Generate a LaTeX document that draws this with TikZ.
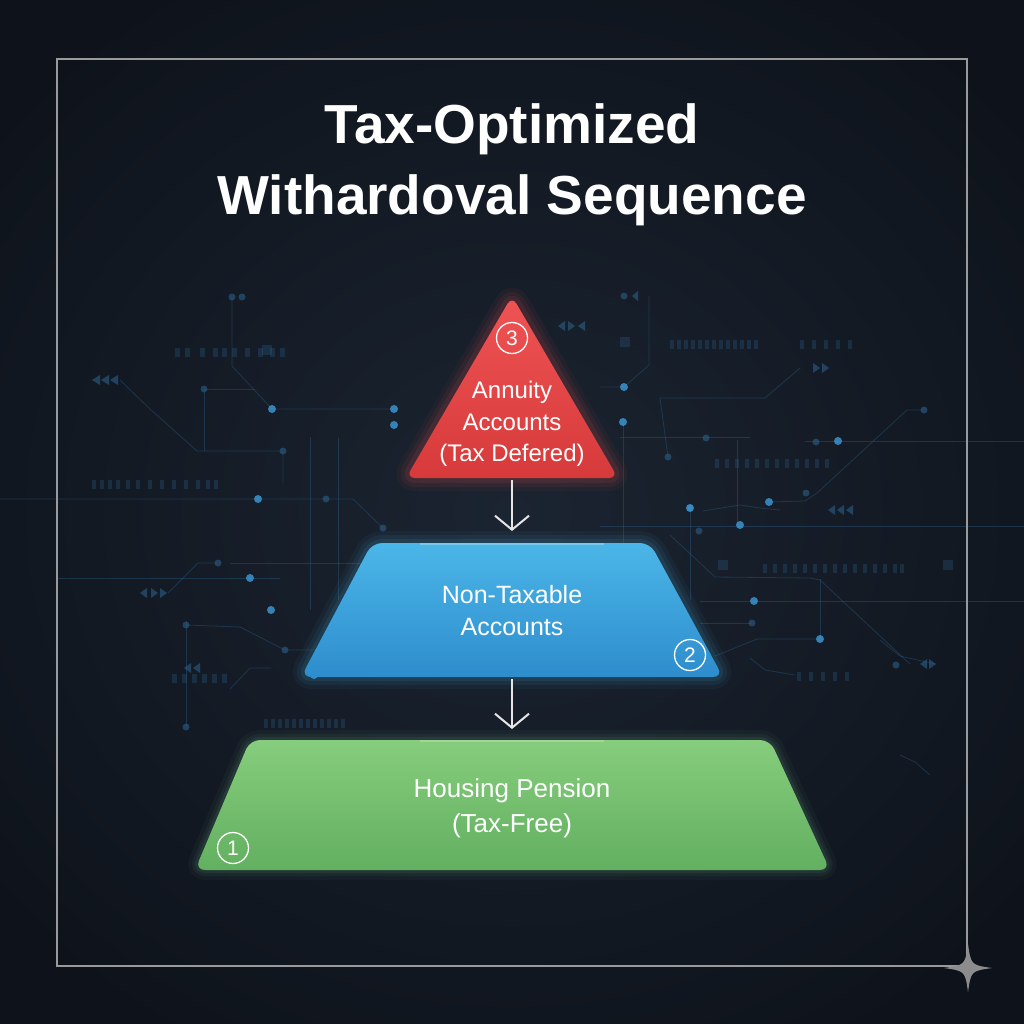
\documentclass[tikz,border=0pt]{standalone}
\usepackage{fontspec}
\setmainfont{Liberation Sans}
\usetikzlibrary{arrows.meta,calc}
\definecolor{bgdark}{HTML}{0E131B}
\definecolor{bgmid}{HTML}{1B2431}
\definecolor{framegray}{HTML}{9A9A9A}
\definecolor{redtop}{HTML}{EF5353}
\definecolor{redbot}{HTML}{D63A3A}
\definecolor{bluetop}{HTML}{4BB6E8}
\definecolor{bluebot}{HTML}{2E8DCD}
\definecolor{greentop}{HTML}{86CD7D}
\definecolor{greenbot}{HTML}{62B060}
\definecolor{greenglow}{HTML}{9BE8B0}
\definecolor{circ}{HTML}{2B5F88}
\definecolor{circdot}{HTML}{3C9BDA}
\definecolor{arrowgray}{HTML}{E6E6E6}
\definecolor{stargray}{HTML}{8C8C8C}
\tikzset{
  circline/.style={draw=circ, line width=0.8pt, opacity=0.4},
  cdot/.style={fill=circdot, opacity=0.8},
  cdim/.style={fill=circ, opacity=0.6},
  bars/.style={fill=circ, opacity=0.3},
  shapetext/.style={text=white, align=center, font=\fontsize{24}{31.5}\selectfont},
  numcircle/.style={circle, draw=white, line width=1.3pt, text=white, inner sep=0pt, minimum size=31pt, font=\fontsize{21}{21}\selectfont},
  flowarrow/.style={draw=arrowgray, line width=2pt, -{Straight Barb[length=14pt,width=34pt,line width=2pt]}},
}
\begin{document}
\begin{tikzpicture}[x=1pt,y=-1pt]
\useasboundingbox (0,0) rectangle (1024,1024);
% background
\fill[bgdark] (0,0) rectangle (1024,1024);
\shade[inner color=bgmid, outer color=bgdark] (-150,-100) rectangle (1174,1124);

% circuit decorations (left)
\draw[circline] (232,297) -- (232,366) -- (272,409) -- (394,409);
\draw[circline] (204,389) -- (255,389) (204,389) -- (204,451);
\draw[circline] (120,380) -- (150,409) -- (197,451) -- (283,451) -- (283,483);
\draw[circline] (0,499) -- (353,499) -- (383,528);
\draw[circline] (310,437) -- (310,610) (338,438) -- (338,600);
\draw[circline] (230,563) -- (380,563);
\draw[circline] (57,578) -- (280,578);
\draw[circline] (168,593) -- (198,563) -- (218,563);
\draw[circline] (186,625) -- (240,627) -- (285,650) -- (330,650);
\draw[circline] (230,689) -- (250,668) -- (271,668);
\draw[circline] (186,621) -- (186,727);
\foreach \p in {(232,297),(242,297),(204,389),(283,451),(326,499),(383,528),(218,563),(186,625),(186,727),(285,650)}
  \fill[cdim] \p circle (3.5);
\foreach \p in {(272,409),(394,409),(394,425),(258,499),(250,578),(271,610),(314,675)}
  \fill[cdot] \p circle (4);
\fill[circ, opacity=0.6] (92,380) -- (100,375) -- (100,385) -- cycle (101,380) -- (109,375) -- (109,385) -- cycle (110,380) -- (118,375) -- (118,385) -- cycle;
\fill[circ, opacity=0.6] (140,593) -- (147,588) -- (147,598) -- cycle (151,588) -- (158,593) -- (151,598) -- cycle (160,588) -- (167,593) -- (160,598) -- cycle;
\fill[circ, opacity=0.6] (184,668) -- (191,663) -- (191,673) -- cycle (193,668) -- (200,663) -- (200,673) -- cycle;
\foreach \x in {175,185,200,213,222,232,245,258,270,280} \fill[bars] (\x,348) rectangle ++(5,9);
\foreach \x in {92,100,108,116,126,136,148,160,172,184,196,206,214} \fill[bars] (\x,480) rectangle ++(4,9);
\foreach \x in {172,182,192,202,212,222} \fill[bars] (\x,674) rectangle ++(5,9);
\foreach \x in {264,271,278,285,292,299,306,313,320,327,334,341} \fill[bars] (\x,719) rectangle ++(4,9);
\fill[bars] (262,345) rectangle ++(10,10);

% circuit decorations (right)
\draw[circline] (649,296) -- (649,365) -- (624,387) -- (600,387);
\draw[circline] (800,368) -- (765,398) -- (660,398) -- (668,457);
\draw[circline] (924,410) -- (907,410) -- (817,493) -- (805,501) -- (769,502);
\draw[circline] (805,441) -- (1024,441);
\draw[circline] (620,437) -- (750,437);
\draw[circline] (623,422) -- (623,560);
\draw[circline] (600,526) -- (1024,526);
\draw[circline] (690,508) -- (690,600);
\draw[circline] (703,511) -- (740,505) -- (760,508) -- (780,510);
\draw[circline] (737,440) -- (737,525);
\draw[circline] (670,535) -- (715,577) -- (810,578) -- (820,580) -- (910,664);
\draw[circline] (700,601) -- (1024,601);
\draw[circline] (700,623) -- (752,623);
\draw[circline] (715,656) -- (757,639) -- (820,639);
\draw[circline] (820,579) -- (820,639);
\draw[circline] (880,640) -- (900,656) -- (935,664);
\draw[circline] (750,658) -- (765,670) -- (795,675);
\draw[circline] (900,755) -- (915,762) -- (930,775);
\foreach \p in {(624,296),(668,457),(706,438),(806,493),(690,508),(816,442),(752,623),(924,410),(699,531),(896,665)}
  \fill[cdim] \p circle (3.5);
\foreach \p in {(624,387),(623,422),(769,502),(740,525),(690,508),(754,601),(820,639),(838,441)}
  \fill[cdot] \p circle (4);
\fill[circ, opacity=0.6] (632,296) -- (638,291) -- (638,301) -- cycle;
\fill[circ, opacity=0.6] (813,363) -- (820,368) -- (813,373) -- cycle (822,363) -- (829,368) -- (822,373) -- cycle;
\fill[circ, opacity=0.6] (828,510) -- (835,505) -- (835,515) -- cycle (837,510) -- (844,505) -- (844,515) -- cycle (846,510) -- (853,505) -- (853,515) -- cycle;
\fill[circ, opacity=0.6] (920,664) -- (927,659) -- (927,669) -- cycle (929,659) -- (936,664) -- (929,669) -- cycle;
\fill[circ, opacity=0.6] (558,326) -- (565,321) -- (565,331) -- cycle (568,321) -- (575,326) -- (568,331) -- cycle (578,326) -- (585,321) -- (585,331) -- cycle;
\foreach \x in {670,677,684,691,698,705,712,719,726,733,740,747,754} \fill[bars] (\x,340) rectangle ++(4,9);
\foreach \x in {800,812,824,836,848} \fill[bars] (\x,340) rectangle ++(4,9);
\foreach \x in {715,725,735,745,755,765,775,785,795,805,815,825} \fill[bars] (\x,459) rectangle ++(4,9);
\foreach \x in {763,773,783,793,803,813,823,833,843,853,863,873,883,893,900} \fill[bars] (\x,564) rectangle ++(4,9);
\foreach \x in {797,809,821,833,845} \fill[bars] (\x,672) rectangle ++(4,9);
\fill[bars] (620,337) rectangle ++(10,10);
\fill[bars] (718,560) rectangle ++(10,10);
\fill[bars] (943,560) rectangle ++(10,10);

% frame
\draw[framegray, line width=2pt] (57,59) rectangle (967,966);

% title
\node[text=white, font=\bfseries\fontsize{55}{71}\selectfont, align=center] (title) at (512,165) {Tax-Optimized\\Withardoval Sequence};

% ---- red triangle ----
\foreach \w/\o in {26/0.05,18/0.07,10/0.10}
  \draw[redtop, line width=\w pt, opacity=\o, rounded corners=9pt, line join=round] (512,296) -- (618,478) -- (406,478) -- cycle;
\shade[top color=redtop, bottom color=redbot, rounded corners=9pt] (512,296) -- (618,478) -- (406,478) -- cycle;
\node[numcircle] (n3) at (512,338) {3};
\node[shapetext] (annuity) at (512,424) {Annuity\\Accounts\\(Tax Defered)};
\coordinate (triBottom) at (512,480);

% ---- blue trapezoid ----
\foreach \w/\o in {24/0.05,16/0.07,8/0.10}
  \draw[bluetop, line width=\w pt, opacity=\o, rounded corners=10pt, line join=round] (372,543) -- (650,543) -- (723,677) -- (301,677) -- cycle;
\shade[top color=bluetop, bottom color=bluebot, rounded corners=10pt] (372,543) -- (650,543) -- (723,677) -- (301,677) -- cycle;
\fill[white, opacity=0.25] (420,543) rectangle (604,545);
\node[shapetext, font=\fontsize{25}{32}\selectfont] (nontax) at (512,611) {Non-Taxable\\Accounts};
\node[numcircle] (n2) at (690,655) {2};
\coordinate (blueTop) at (512,543);
\coordinate (blueBottom) at (512,679);

% ---- green trapezoid ----
\foreach \w/\o in {20/0.035,12/0.05,6/0.07}
  \draw[greenglow, line width=\w pt, opacity=\o, rounded corners=10pt, line join=round] (250,740) -- (770,740) -- (830,870) -- (195,870) -- cycle;
\shade[top color=greentop, bottom color=greenbot, rounded corners=10pt] (250,740) -- (770,740) -- (830,870) -- (195,870) -- cycle;
\fill[white, opacity=0.2] (420,740) rectangle (604,742);
\node[shapetext, font=\fontsize{26}{35}\selectfont] (housing) at (512,808) {Housing Pension\\(Tax-Free)};
\node[numcircle] (n1) at (233,848) {1};
\coordinate (greenTop) at (512,740);

% ---- arrows ----
\draw[flowarrow] (triBottom) -- ($(blueTop)+(0,-12)$);
\draw[flowarrow] (blueBottom) -- ($(greenTop)+(0,-11)$);

% ---- star ----
\fill[stargray] (968,944) .. controls (971,965) .. (992,968) .. controls (971,971) .. (968,992) .. controls (965,971) .. (944,968) .. controls (965,965) .. cycle;
\end{tikzpicture}
\end{document}
